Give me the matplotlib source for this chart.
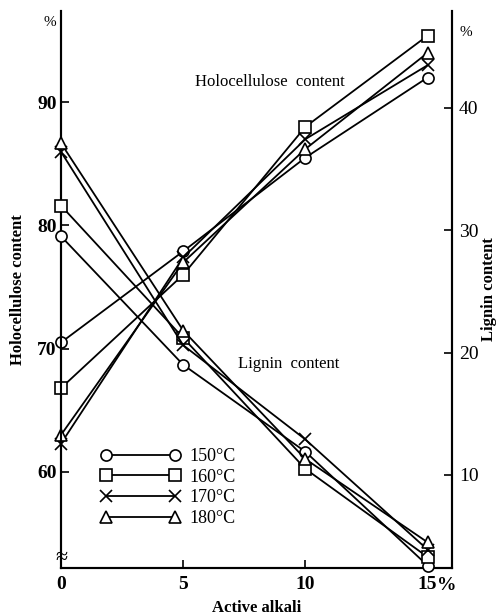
import matplotlib
matplotlib.use('Agg')
import matplotlib.pyplot as plt

# active alkali charge, %
alkali = [0, 5, 10, 15]
temps = ['150°C', '160°C', '170°C', '180°C']
markers = ['o', 's', 'x', '^']

# holocellulose content, % (left axis)
holo_150 = [70.5, 77.9, 85.5, 92.0]
holo_160 = [66.8, 76.0, 88.0, 95.4]
holo_170 = [62.3, 77.4, 87.0, 93.0]
holo_180 = [63.0, 77.0, 86.2, 94.0]

# lignin content, % (right axis)
lig_150 = [29.5, 19.0, 11.9, 2.6]
lig_160 = [32.0, 21.2, 10.5, 3.3]
lig_170 = [36.4, 20.6, 12.9, 3.9]
lig_180 = [37.1, 21.8, 11.3, 4.5]

holo = [holo_150, holo_160, holo_170, holo_180]
lig = [lig_150, lig_160, lig_170, lig_180]

plt.rcParams['font.family'] = ['Liberation Serif', 'DejaVu Serif']

fig = plt.figure(figsize=(5.01, 6.16), dpi=100)
ax = fig.add_axes([61/501, 1 - 568/616, (452 - 61)/501, (568 - 11)/616])
ax2 = ax.twinx()

style = dict(color='black', lw=1.3, markersize=8, markerfacecolor='white',
             markeredgecolor='black', markeredgewidth=1.2, clip_on=False)

for vals, m in zip(holo, markers):
    ax.plot(alkali, vals, marker=m, zorder=3, **style)

handles = []
for vals, m, t in zip(lig, markers, temps):
    h, = ax2.plot(alkali, vals, marker=m, label=t, zorder=3, **style)
    handles.append(h)

ax.set_xlim(0, 16)
ax.set_ylim(52.2, 97.4)
ax2.set_ylim(2.4, 47.9)

ax.set_xticks([0, 5, 10, 15])
ax.set_xticklabels(['0', '5', '10', '15'])
ax.set_yticks([60, 70, 80, 90])
ax2.set_yticks([10, 20, 30, 40])

for a in (ax, ax2):
    a.spines['top'].set_visible(False)
    for s in a.spines.values():
        s.set_linewidth(1.5)

ax.tick_params(axis='x', direction='in', length=6, width=1.2, pad=6,
               labelsize=14)
ax.tick_params(axis='y', direction='in', length=6, width=1.2, pad=3,
               labelsize=14)
ax2.tick_params(axis='y', direction='in', length=6, width=1.2, pad=5,
                labelsize=14)
for lbl in ax.get_xticklabels() + ax.get_yticklabels():
    lbl.set_fontweight('bold')

ax.text(15.38, -0.017, '%', transform=ax.get_xaxis_transform(),
        ha='left', va='top', fontsize=14, fontweight='bold')

ax.set_xlabel('Active alkali', fontsize=12, fontweight='bold')
ax.xaxis.set_label_coords(0.5, -0.058)
ax.set_ylabel('Holocellulose content', fontsize=12, fontweight='bold')
ax.yaxis.set_label_coords(-0.09, 0.5)
ax2.set_ylabel('Lignin content', fontsize=12, fontweight='bold')
ax2.yaxis.set_label_coords(1.075, 0.5)

fig.text(50/501, 1 - 22/616, '%', ha='center', va='center', fontsize=11)
fig.text(466/501, 1 - 32/616, '%', ha='center', va='center', fontsize=11)

ax.text(270/501, 1 - 82/616, 'Holocellulose  content', transform=fig.transFigure,
        ha='center', va='center', fontsize=12)
ax.text(289/501, 1 - 364/616, 'Lignin  content', transform=fig.transFigure,
        ha='center', va='center', fontsize=12)

# axis break mark on the left spine
ax.text(0, 53.0, '≈', ha='center', va='center', fontsize=16,
        clip_on=False)

ax2.legend(handles=handles, loc='upper left', numpoints=2, frameon=False,
           bbox_to_anchor=(101/501, 1 - 448/616), bbox_transform=fig.transFigure,
           borderaxespad=0, borderpad=0, handlelength=4.4, handletextpad=0.5,
           labelspacing=0.2, fontsize=13)

plt.savefig('out.png', dpi=100)
